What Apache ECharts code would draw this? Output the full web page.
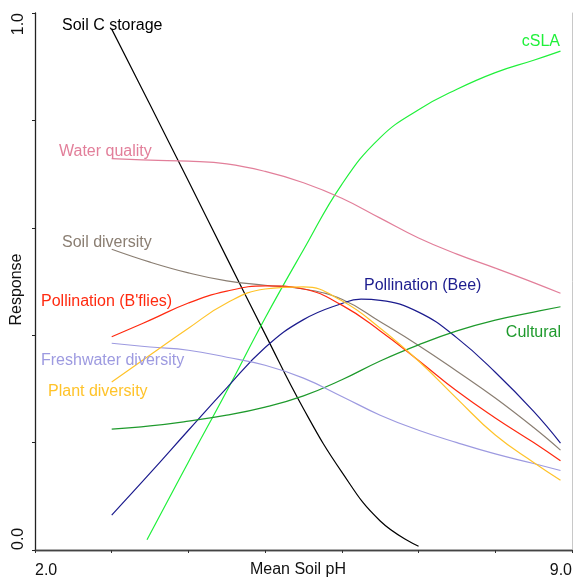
<!DOCTYPE html>
<html>
<head>
<meta charset="utf-8">
<script src="https://cdn.jsdelivr.net/npm/echarts@6/dist/echarts.min.js"></script>
<style>
html,body{margin:0;padding:0;background:#fff;}
#chart{width:573px;height:581px;}
</style>
</head>
<body>
<div id="chart"></div>
<script>
// ---- data ----
var phFull = [3.0, 3.5, 4.0, 4.5, 5.0, 5.5, 6.0, 6.5, 7.0, 7.5, 8.0, 8.5, 8.85];

var soilCStoragePH = [3.0, 3.5, 4.0, 4.5, 5.0, 5.5, 6.0, 6.5, 7.0];
var soilCStorage   = [0.970, 0.829, 0.687, 0.544, 0.402, 0.263, 0.145, 0.054, 0.007];

var cSLAPH = [3.46, 4.0, 4.5, 5.0, 5.5, 6.0, 6.5, 7.0, 7.5, 8.0, 8.5, 8.85];
var cSLA   = [0.019, 0.164, 0.296, 0.432, 0.559, 0.681, 0.768, 0.820, 0.858, 0.889, 0.912, 0.929];

var pollinationBeePH = [3.0, 3.5, 4.0, 4.5, 5.0, 5.5, 6.0, 6.25, 6.5, 7.0, 7.5, 8.0, 8.5, 8.85];
var pollinationBee   = [0.065, 0.143, 0.223, 0.302, 0.377, 0.429, 0.459, 0.467, 0.465, 0.443, 0.395, 0.331, 0.258, 0.199];

var waterQuality        = [0.729, 0.726, 0.724, 0.719, 0.705, 0.684, 0.655, 0.618, 0.581, 0.551, 0.525, 0.498, 0.478];
var soilDiversity       = [0.560, 0.536, 0.516, 0.501, 0.493, 0.486, 0.467, 0.425, 0.381, 0.333, 0.283, 0.228, 0.186];
var pollinationBflies   = [0.397, 0.428, 0.460, 0.482, 0.492, 0.486, 0.456, 0.408, 0.353, 0.296, 0.246, 0.200, 0.166];
var plantDiversity      = [0.313, 0.363, 0.413, 0.460, 0.486, 0.490, 0.464, 0.413, 0.352, 0.282, 0.214, 0.163, 0.130];
var freshwaterDiversity = [0.385, 0.378, 0.372, 0.359, 0.344, 0.320, 0.286, 0.251, 0.223, 0.200, 0.179, 0.161, 0.148];
var cultural            = [0.225, 0.231, 0.240, 0.251, 0.266, 0.287, 0.317, 0.352, 0.382, 0.408, 0.428, 0.443, 0.453];

var xTickLabels = {2: '2.0', 9: '9.0'};
var yTickLabels = {0: '0.0', 1: '1.0'};
var xAxisTitle = 'Mean Soil pH';
var yAxisTitle = 'Response';

// ---- chart ----
function pairs(xs, ys) { return xs.map(function (x, i) { return [x, ys[i]]; }); }

var FONT = '"Liberation Sans", Arial, sans-serif';

var seriesDefs = [
  {name: 'Soil C storage', x: soilCStoragePH, y: soilCStorage, color: '#000000'},
  {name: 'cSLA', x: cSLAPH, y: cSLA, color: '#1ff03a'},
  {name: 'Water quality', x: phFull, y: waterQuality, color: '#e27f9a'},
  {name: 'Soil diversity', x: phFull, y: soilDiversity, color: '#8a7e72'},
  {name: 'Pollination (Bee)', x: pollinationBeePH, y: pollinationBee, color: '#1c1c8e'},
  {name: 'Cultural', x: phFull, y: cultural, color: '#1e9a2c'},
  {name: 'Freshwater diversity', x: phFull, y: freshwaterDiversity, color: '#9d9ae0'},
  {name: 'Pollination (B\'flies)', x: phFull, y: pollinationBflies, color: '#ff2a10'},
  {name: 'Plant diversity', x: phFull, y: plantDiversity, color: '#ffc32a'}
];

var labelDefs = [
  {text: 'Soil C storage', x: 62, y: 26, align: 'left', color: '#000000'},
  {text: 'cSLA', x: 560, y: 42, align: 'right', color: '#1ff03a'},
  {text: 'Water quality', x: 59, y: 152, align: 'left', color: '#e27f9a'},
  {text: 'Soil diversity', x: 62, y: 243, align: 'left', color: '#8a7e72'},
  {text: 'Pollination (B\'flies)', x: 41, y: 302, align: 'left', color: '#ff2a10'},
  {text: 'Pollination (Bee)', x: 364, y: 286, align: 'left', color: '#1c1c8e'},
  {text: 'Cultural', x: 561, y: 333, align: 'right', color: '#1e9a2c'},
  {text: 'Freshwater diversity', x: 41, y: 361, align: 'left', color: '#9d9ae0'},
  {text: 'Plant diversity', x: 48, y: 392, align: 'left', color: '#ffc32a'}
];

var chart = echarts.init(document.getElementById('chart'), null, {renderer: 'canvas'});
chart.setOption({
  animation: false,
  backgroundColor: '#ffffff',
  textStyle: {fontFamily: FONT},
  grid: {left: 35, right: 1, top: 13, bottom: 31, containLabel: false, outerBoundsMode: 'none'},
  xAxis: [{
    type: 'value', min: 2, max: 9, interval: 1, position: 'bottom',
    axisLine: {show: true, lineStyle: {color: '#444', width: 1.3}},
    axisTick: {show: true, length: 3, lineStyle: {color: '#333'}},
    splitLine: {show: false},
    axisLabel: {
      margin: 13, fontSize: 16, color: '#111', fontFamily: FONT,
      alignMinLabel: 'left', alignMaxLabel: 'right',
      formatter: function (v) { return xTickLabels[v] || ''; }
    },
    name: xAxisTitle, nameLocation: 'middle', nameGap: 12, nameMoveOverlap: false,
    nameTextStyle: {fontSize: 16, color: '#111', fontFamily: FONT, padding: [0, 11, 0, 0]}
  }, {
    type: 'value', min: 2, max: 9, position: 'top',
    axisLine: {show: true, lineStyle: {color: '#444', width: 1.3}},
    axisTick: {show: false}, axisLabel: {show: false}, splitLine: {show: false}
  }],
  yAxis: [{
    type: 'value', min: 0, max: 1, interval: 0.2, position: 'left',
    axisLine: {show: true, lineStyle: {color: '#222', width: 1.3}},
    axisTick: {show: true, length: 3, lineStyle: {color: '#222'}},
    splitLine: {show: false},
    axisLabel: {
      margin: 8, fontSize: 16, color: '#111', fontFamily: FONT, rotate: 90,
      alignMinLabel: 'left', alignMaxLabel: 'right',
      formatter: function (v) { var k = Math.round(v * 10) / 10; return yTickLabels[k] || ''; }
    },
    name: yAxisTitle, nameLocation: 'middle', nameGap: 10, nameMoveOverlap: false,
    nameTextStyle: {fontSize: 16, color: '#111', fontFamily: FONT, padding: [0, 16, 0, 0]}
  }, {
    type: 'value', min: 0, max: 1, position: 'right',
    axisLine: {show: true, lineStyle: {color: '#c8c8c8', width: 1}},
    axisTick: {show: false}, axisLabel: {show: false}, splitLine: {show: false}
  }],
  series: seriesDefs.map(function (s) {
    return {
      type: 'line', name: s.name, data: pairs(s.x, s.y), smooth: 0.45,
      showSymbol: false, symbol: 'none', xAxisIndex: 0, yAxisIndex: 0,
      lineStyle: {color: s.color, width: 1.2}, itemStyle: {color: s.color}
    };
  }),
  graphic: labelDefs.map(function (l) {
    return {
      type: 'text', x: l.x, y: l.y, z: 100,
      style: {text: l.text, fill: l.color, font: '16px ' + FONT, textAlign: l.align, textVerticalAlign: 'middle'}
    };
  })
});
</script>
</body>
</html>
